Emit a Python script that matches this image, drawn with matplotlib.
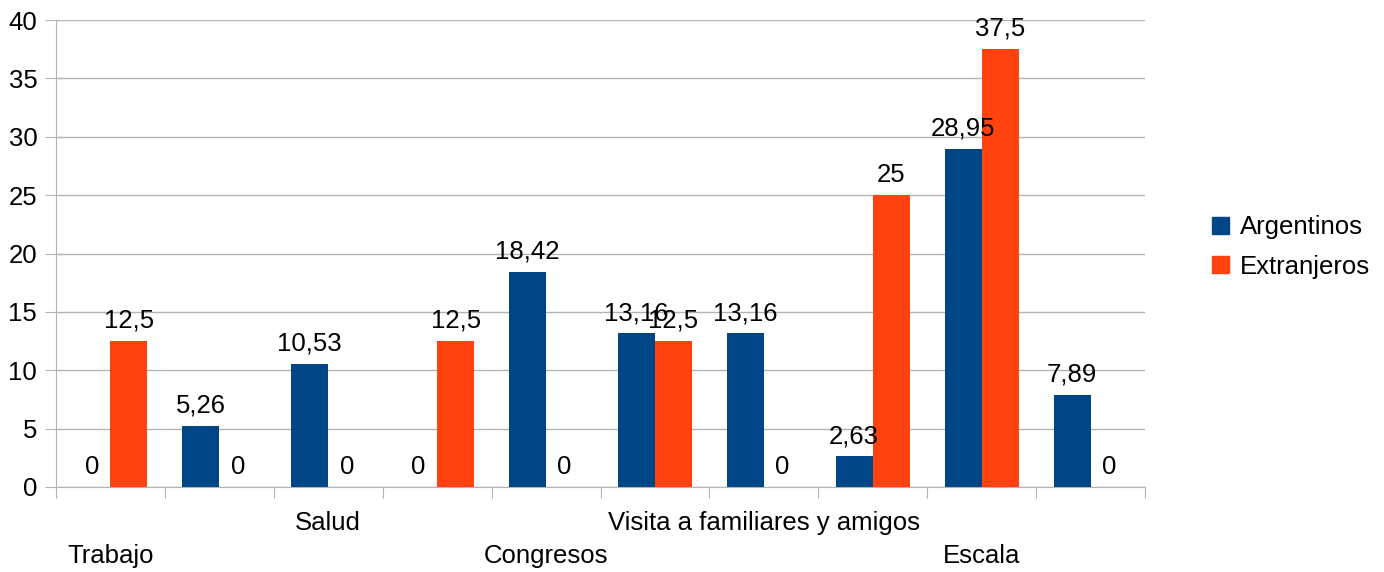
import numpy as np
from matplotlib import pyplot as plt
from matplotlib.patches import Patch

plt.rcParams['font.family'] = ['Liberation Sans', 'DejaVu Sans']

# datos
categorias = ['Trabajo', '', 'Salud', '', 'Congresos', '',
              'Visita a familiares y amigos', '', 'Escala', '']
argentinos = [0, 5.26, 10.53, 0, 18.42, 13.16, 13.16, 2.63, 28.95, 7.89]
extranjeros = [12.5, 0, 0, 12.5, 0, 12.5, 0, 25, 37.5, 0]
series = ['Argentinos', 'Extranjeros']
colores = ['#004586', '#ff420e']
y_ticks = [0, 5, 10, 15, 20, 25, 30, 35, 40]

gris = '#b3b3b3'
fs = 18.5

fig = plt.figure(figsize=(13.84, 5.72), dpi=100)
ax = fig.add_axes([56/1384, 85/572, (1145-56)/1384, 467/572])

x = np.arange(len(categorias))
w = 0.34
b1 = ax.bar(x - w/2, argentinos, w, color=colores[0], zorder=3)
b2 = ax.bar(x + w/2, extranjeros, w, color=colores[1], zorder=3)

# etiquetas de valores
for barras, vals in ((b1, argentinos), (b2, extranjeros)):
    for b, v in zip(barras, vals):
        txt = ('%g' % v).replace('.', ',')
        ax.annotate(txt, (b.get_x() + b.get_width()/2, v), xytext=(0, 9.5),
                    textcoords='offset points', ha='center', va='baseline',
                    fontsize=fs, zorder=4)

ax.set_xlim(-0.5, len(categorias) - 0.5)
ax.set_ylim(0, 40)
ax.set_yticks(y_ticks)
ax.tick_params(axis='y', labelsize=fs, length=8, color=gris, pad=5.5)
ax.set_xticks(np.arange(len(categorias) + 1) - 0.5)
ax.set_xticklabels([])
ax.tick_params(axis='x', length=8, color=gris)
ax.yaxis.grid(True, color=gris, linewidth=1, zorder=0)
ax.set_axisbelow(True)
for s in ['top', 'right']:
    ax.spines[s].set_visible(False)
for s in ['left', 'bottom']:
    ax.spines[s].set_color(gris)

# etiquetas de categorias escalonadas
for i, c in enumerate(categorias):
    if not c:
        continue
    fila = (i // 2) % 2
    y = -0.077 if fila == 1 else -0.148
    ax.text(i, y, c, transform=ax.get_xaxis_transform(), ha='center',
            va='center', fontsize=fs)

handles = [Patch(color=c) for c in colores]
fig.legend(handles, series, loc='center left', bbox_to_anchor=(0.859, 0.568),
           frameon=False, fontsize=fs, handlelength=0.65, handleheight=0.65,
           handletextpad=0.42, labelspacing=0.6)

plt.savefig('out.png', dpi=100)
